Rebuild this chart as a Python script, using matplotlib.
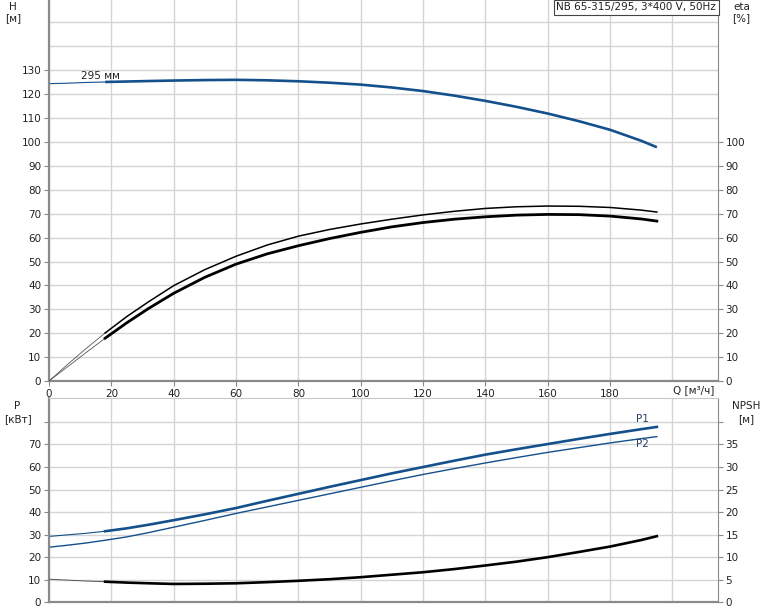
import matplotlib.pyplot as plt

# ---- data ----
q = [0, 6, 12, 18, 25, 32, 40, 50, 60, 70, 80, 90, 100, 110, 120, 130, 140, 150, 160, 170, 180, 190, 195]

head = [124.4, 124.6, 124.9, 125.1, 125.3, 125.5, 125.7, 125.9, 126.0, 125.8, 125.4, 124.8,
        124.0, 122.8, 121.3, 119.4, 117.2, 114.7, 111.9, 108.7, 105.1, 100.5, 97.8]

eta_pump = [0, 7.0, 13.7, 20.1, 27.0, 33.2, 39.9, 46.6, 52.2, 56.9, 60.6, 63.4,
            65.7, 67.7, 69.5, 71.0, 72.2, 72.9, 73.2, 73.1, 72.6, 71.5, 70.7]
eta_total = [0, 6.0, 12.0, 17.9, 24.4, 30.4, 36.7, 43.4, 48.9, 53.2, 56.6, 59.6,
             62.2, 64.5, 66.3, 67.7, 68.7, 69.4, 69.7, 69.6, 69.0, 67.8, 66.9]

p1 = [29.2, 29.9, 30.6, 31.5, 32.8, 34.4, 36.4, 39.0, 41.8, 45.0, 48.1, 51.2,
      54.2, 57.2, 60.0, 62.8, 65.5, 67.9, 70.2, 72.5, 74.7, 76.8, 77.8]
p2 = [24.4, 25.3, 26.3, 27.5, 29.0, 30.9, 33.3, 36.3, 39.4, 42.3, 45.2, 48.1,
      51.0, 53.9, 56.7, 59.3, 61.8, 64.2, 66.5, 68.6, 70.7, 72.6, 73.5]

npsh = [5.1, 4.9, 4.7, 4.55, 4.35, 4.2, 4.05, 4.1, 4.2, 4.45, 4.75, 5.1,
        5.55, 6.1, 6.65, 7.35, 8.15, 9.0, 10.0, 11.15, 12.35, 13.8, 14.65]

x_ticks = [0, 20, 40, 60, 80, 100, 120, 140, 160, 180]
title = 'NB 65-315/295, 3*400 V, 50Hz'
k = 3   # index where the curves turn from thin to thick (Q = 18)

blue = '#14508c'
grid_c = '#d4d4d4'
spine_c = '#8a8a8a'
txt_c = '#222222'
fs = 7.5

plt.rcParams['font.family'] = 'DejaVu Sans'
fig = plt.figure(figsize=(7.74, 6.11), dpi=100)

ax1 = fig.add_axes([0.0633, 0.3764, 0.8643, 0.6236])
ax2 = fig.add_axes([0.0633, 0.0144, 0.8643, 0.3337])

def style(ax, yl, yt, extra_y, xlab):
    ax.set_xlim(0, 214.6)
    ax.set_ylim(*yl)
    ax.set_xticks(x_ticks)
    ax.set_yticks(yt)
    ax.grid(True, color=grid_c, lw=1.0)
    ax.axvline(200, color=grid_c, lw=1.0, zorder=0.5)
    for v in extra_y:
        ax.axhline(v, color=grid_c, lw=1.0, zorder=0.5)
    ax.set_axisbelow(True)
    ax.tick_params(labelsize=fs, colors=txt_c, length=3.5, width=0.8, color=spine_c, pad=2)
    for s in ax.spines.values():
        s.set_color(spine_c)
    ax.spines['left'].set_linewidth(1.6)
    ax.spines['bottom'].set_linewidth(1.6)
    ax.spines['top'].set_color('#c8c8c8')
    if not xlab:
        ax.tick_params(axis='x', labelbottom=False, length=0)

# ---- top: head and efficiency ----
style(ax1, (0, 159.4), list(range(0, 140, 10)), [140, 150], True)
ax1.spines['top'].set_visible(False)

ax1.plot(q[:k + 1], head[:k + 1], color=blue, lw=0.8)
ax1.plot(q[k:], head[k:], color=blue, lw=1.9, solid_capstyle='butt')
ax1.text(16.5, 126.2, '295 мм', fontsize=fs, color=txt_c, ha='center', va='baseline')

ax1r = ax1.twinx()
ax1r.set_ylim(0, 159.4)
ax1r.set_yticks(range(0, 110, 10))
ax1r.tick_params(labelsize=fs, colors=txt_c, length=3.5, width=0.8, color=spine_c, pad=2)
for s in ax1r.spines.values():
    s.set_visible(False)
ax1r.plot(q[:k + 1], eta_pump[:k + 1], color='#555555', lw=0.6)
ax1r.plot(q[k:], eta_pump[k:], color='black', lw=1.1)
ax1r.plot(q[:k + 1], eta_total[:k + 1], color='#555555', lw=0.6)
ax1r.plot(q[k:], eta_total[k:], color='black', lw=2.0)

ax1.text(-0.054, 0.995, 'H', transform=ax1.transAxes, fontsize=fs, color=txt_c, ha='center', va='top')
ax1.text(-0.054, 0.965, '[м]', transform=ax1.transAxes, fontsize=fs, color=txt_c, ha='center', va='top')
ax1r.text(1.035, 0.995, 'eta', transform=ax1.transAxes, fontsize=fs, color=txt_c, ha='center', va='top')
ax1r.text(1.035, 0.965, '[%]', transform=ax1.transAxes, fontsize=fs, color=txt_c, ha='center', va='top')
ax1.text(0.995, -0.012, 'Q [м³/ч]', transform=ax1.transAxes, fontsize=fs, color=txt_c, ha='right', va='top')
ax1.text(0.997, 0.994, title, transform=ax1.transAxes, fontsize=fs, color=txt_c, ha='right', va='top',
         bbox=dict(boxstyle='square,pad=0.25', fc='white', ec='#444444', lw=0.8))

# ---- bottom: power and NPSH ----
style(ax2, (0, 90.5), list(range(0, 90, 10)), [], False)
ax2.set_yticklabels([str(v) if v <= 70 else '' for v in range(0, 90, 10)])

ax2.plot(q[:k + 1], p1[:k + 1], color=blue, lw=0.8)
ax2.plot(q[k:], p1[k:], color=blue, lw=1.9)
ax2.plot(q, p2, color=blue, lw=1.0)
ax2.text(190.5, p1[-1] + 1.2, 'P1', fontsize=fs, color='#2a3f66', ha='center', va='bottom')
ax2.text(190.5, p2[-1] - 1.2, 'P2', fontsize=fs, color='#2a3f66', ha='center', va='top')

ax2r = ax2.twinx()
ax2r.set_ylim(0, 45.25)
ax2r.set_yticks(range(0, 45, 5))
ax2r.set_yticklabels([str(v) if v <= 35 else '' for v in range(0, 45, 5)])
ax2r.tick_params(labelsize=fs, colors=txt_c, length=3.5, width=0.8, color=spine_c, pad=2)
for s in ax2r.spines.values():
    s.set_visible(False)
ax2r.plot(q[:k + 1], npsh[:k + 1], color='#555555', lw=0.7)
ax2r.plot(q[k:], npsh[k:], color='black', lw=1.9)

ax2.text(-0.047, 0.985, 'P', transform=ax2.transAxes, fontsize=fs, color=txt_c, ha='center', va='top')
ax2.text(-0.047, 0.925, '[кВт]', transform=ax2.transAxes, fontsize=fs, color=txt_c, ha='center', va='top')
ax2.text(1.042, 0.985, 'NPSH', transform=ax2.transAxes, fontsize=fs, color=txt_c, ha='center', va='top')
ax2.text(1.042, 0.925, '[м]', transform=ax2.transAxes, fontsize=fs, color=txt_c, ha='center', va='top')

plt.savefig('out.png', dpi=100)
